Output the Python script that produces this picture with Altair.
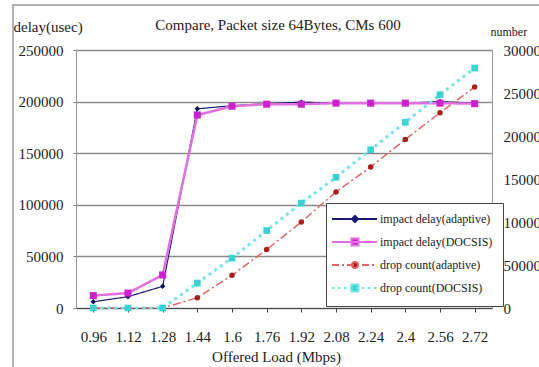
import altair as alt
import pandas as pd

# ---------------- data ----------------
loads = ["0.96", "1.12", "1.28", "1.44", "1.6", "1.76", "1.92", "2.08", "2.24", "2.4", "2.56", "2.72"]
delay_adaptive = [6000, 11000, 21000, 193000, 196000, 198000, 199500, 198500, 199000, 198500, 200000, 198500]
delay_docsis = [12000, 14500, 32000, 187000, 195500, 197500, 197500, 198500, 198500, 198500, 198500, 198000]
drop_adaptive = [0, 0, 0, 12000, 38000, 68000, 100000, 135000, 164000, 196000, 227000, 257000]
drop_docsis = [0, 0, 0, 29000, 58000, 90000, 122000, 152000, 184000, 216000, 248000, 279000]
series_names = ["impact delay(adaptive)", "impact delay(DOCSIS)", "drop count(adaptive)", "drop count(DOCSIS)"]
series_values = [delay_adaptive, delay_docsis, drop_adaptive, drop_docsis]

rows = []
for name, vals in zip(series_names, series_values):
    for ld, v in zip(loads, vals):
        rows.append({"load": ld, "series": name, "value": v})
df = pd.DataFrame(rows)

FONT = "Liberation Serif, Times New Roman, DejaVu Serif, serif"
TXT = "#222222"

# styles
line_colors = ["#1a1a6e", "#e070e0", "#e06464", "#6ee6e6"]
marker_colors = ["#101060", "#cc22cc", "#a81e1e", "#3cd2d2"]
line_widths = [1.2, 2.5, 1.5, 3]
line_dashes = [[1, 0], [1, 0], [8, 3, 2, 3], [3, 4]]
marker_shapes = ["diamond", "square", "circle", "square"]
marker_sizes = [30, 50, 30, 45]

# legend symbol paths (px relative to symbol centre, scaled to units)
U = 4.0
L0, L1, MX = -10.0, 35.0, 13.0


def f(v):
    return f"{v / U:.3f}"


def dashed(pattern):
    out, x, i = [], L0, 0
    while x < L1:
        ln = pattern[i % len(pattern)]
        if i % 2 == 0:
            out.append(f"M{f(x)},0H{f(min(x + ln, L1))}")
        x += ln
        i += 1
    return "".join(out)


def square(h):
    return f"M{f(MX - h)},{f(-h)}H{f(MX + h)}V{f(h)}H{f(MX - h)}Z"


def diamond(h):
    return f"M{f(MX)},{f(-h)}L{f(MX + h)},0L{f(MX)},{f(h)}L{f(MX - h)},0Z"


def circle(r):
    return (f"M{f(MX - r)},0A{f(r)},{f(r)} 0 1 0 {f(MX + r)},0"
            f"A{f(r)},{f(r)} 0 1 0 {f(MX - r)},0Z")


legend_paths = [
    dashed([45, 0]) + diamond(3),
    dashed([45, 0]) + square(3.5),
    dashed([7, 3, 2, 3]) + circle(3),
    dashed([2.5, 3.5]) + square(3.5),
]

x_enc = alt.X(
    "load:O", sort=loads,
    scale=alt.Scale(type="point", domain=loads, padding=0.5),
    axis=alt.Axis(
        title="Offered Load (Mbps)", labelAngle=0, labelFont=FONT, labelFontSize=15,
        labelColor=TXT, labelPadding=17, tickSize=4, tickColor="#444", domainColor="#444",
        domainWidth=1.2, titleFont=FONT, titleFontSize=15, titleFontWeight="normal",
        titleColor=TXT, titleX=200, titleY=48, titleAlign="center", titleBaseline="middle",
        grid=False,
    ),
)

left_axis = alt.Axis(
    title="delay(usec)", values=[0, 50000, 100000, 150000, 200000, 250000], format="d",
    labelFont=FONT, labelFontSize=15, labelColor=TXT, labelPadding=10, tickSize=3,
    tickColor="#777", domainColor="#999", grid=True, gridColor="#8a8a8a", gridWidth=1.3,
    titleFont=FONT, titleFontSize=15, titleFontWeight="normal", titleColor=TXT,
    titleAngle=0, titleX=-63, titleY=-24, titleAlign="left", titleBaseline="middle",
)
right_axis = alt.Axis(
    title="number", orient="right", values=[0, 50000, 100000, 150000, 200000, 250000, 300000],
    format="d", labelFont=FONT, labelFontSize=15, labelColor=TXT, labelPadding=11,
    ticks=False, domainColor="#999", grid=False, titleFont=FONT, titleFontSize=12,
    titleFontWeight="normal", titleColor=TXT, titleAngle=0, titleX=-2, titleY=-19,
    titleAlign="left", titleBaseline="middle",
)


def series_layer(i, axis):
    domain = [0, 250000] if i < 2 else [0, 300000]
    return alt.Chart(df).transform_filter(
        alt.datum.series == series_names[i]
    ).mark_line(
        color=line_colors[i], strokeWidth=line_widths[i], strokeDash=line_dashes[i],
        point=alt.OverlayMarkDef(filled=True, shape=marker_shapes[i], size=marker_sizes[i],
                                 color=marker_colors[i], opacity=1),
    ).encode(
        x=x_enc,
        y=alt.Y("value:Q", scale=alt.Scale(domain=domain, nice=False, zero=True),
                axis=axis if axis is not None else None),
    )


frame = alt.Chart(pd.DataFrame({"a": [0]})).mark_rect(
    fill="white", fillOpacity=0, stroke="#9a9a9a", strokeWidth=1.5
).encode(x=alt.value(-63), x2=alt.value(480), y=alt.value(-45), y2=alt.value(330))

legend_cfg = alt.Legend(
    orient="none", legendX=250, legendY=153, title=None, padding=10, fillColor="white",
    strokeColor="#444", symbolSize=64, symbolStrokeWidth=2, labelFont=FONT, labelFontSize=12,
    labelOffset=32, rowPadding=8, labelLimit=300, labelColor=TXT,
)
legend_layer = alt.Chart(df).transform_filter("false").mark_point(opacity=1).encode(
    shape=alt.Shape("series:N", scale=alt.Scale(domain=series_names, range=legend_paths), legend=legend_cfg),
    fill=alt.Fill("series:N", scale=alt.Scale(domain=series_names, range=marker_colors), legend=legend_cfg),
    stroke=alt.Stroke("series:N", scale=alt.Scale(domain=series_names, range=line_colors), legend=legend_cfg),
)

chart = alt.layer(
    frame,
    series_layer(0, left_axis),
    series_layer(1, None),
    series_layer(2, right_axis),
    series_layer(3, None),
    legend_layer,
).resolve_scale(y="independent").properties(
    width=416, height=258,
    autosize=alt.AutoSizeParams(type="none"),
    padding={"left": 76, "top": 50, "right": 47, "bottom": 59},
    background="white",
    title=alt.Title("Compare, Packet size 64Bytes, CMs 600", font=FONT, fontSize=15,
                    fontWeight="normal", color=TXT, anchor="middle", frame="group",
                    baseline="middle", offset=0, dy=36, dx=-6),
).configure(font=FONT).configure_axis(labelFont=FONT, titleFont=FONT).configure_view(stroke=None)

chart.save("out.html", embed_options={"renderer": "svg", "actions": False})
